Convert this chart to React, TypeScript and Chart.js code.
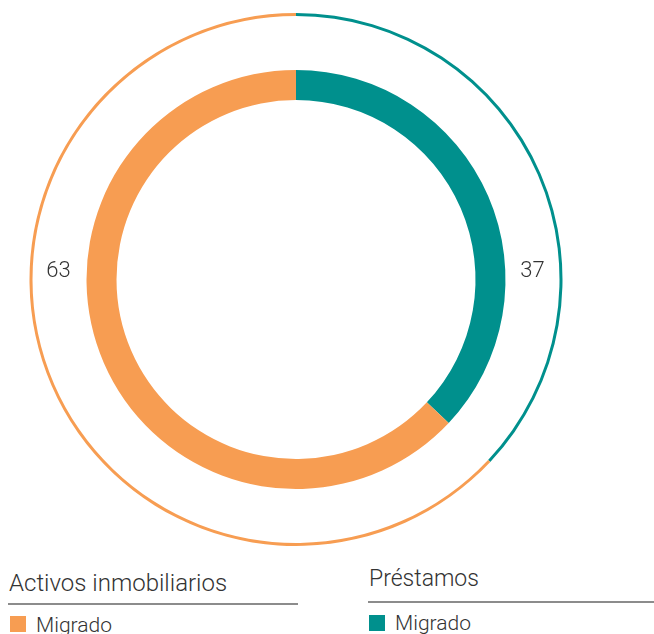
import React, { useEffect, useRef } from "react";
import { Chart, registerables } from "chart.js";

Chart.register(...registerables);

const categories = ["Préstamos", "Activos inmobiliarios"];
const values = [37, 63];
const colors = ["#00908D", "#F79D52"];
const legendItem = "Migrado";

const FONT = "Roboto, 'Open Sans', sans-serif";

const sideLabels = {
  id: "sideLabels",
  afterDraw(chart: any) {
    const meta = chart.getDatasetMeta(1);
    const arc = meta.data[0];
    if (!arc) return;
    const { x, y, outerRadius, innerRadius } = arc.getProps(["x", "y", "outerRadius", "innerRadius"], true);
    const mid = (outerRadius + innerRadius) / 2;
    const ctx = chart.ctx;
    ctx.save();
    ctx.font = `300 22px ${FONT}`;
    ctx.fillStyle = "#333333";
    ctx.textAlign = "center";
    ctx.textBaseline = "middle";
    ctx.fillText(String(values[0]), x + mid, y - 8);
    ctx.fillText(String(values[1]), x - mid - 1, y - 8);
    ctx.restore();
  },
};

export default function App() {
  const ref = useRef<HTMLCanvasElement | null>(null);
  useEffect(() => {
    if (!ref.current) return;
    const chart = new Chart(ref.current, {
      type: "doughnut",
      data: {
        labels: categories,
        datasets: [
          { data: values, backgroundColor: colors, borderWidth: 0, weight: 3 },
          { data: [1], backgroundColor: ["rgba(0,0,0,0)"], borderWidth: 0, weight: 54 },
          { data: values, backgroundColor: colors, borderWidth: 0, weight: 30 },
        ],
      },
      options: {
        animation: false,
        responsive: false,
        radius: 266.5,
        cutout: "67.35%",
        layout: { padding: 0 },
        plugins: {
          legend: { display: false },
          tooltip: { enabled: false },
        },
      } as any,
      plugins: [sideLabels],
    });
    return () => chart.destroy();
  }, []);

  const textStyle: React.CSSProperties = {
    position: "absolute",
    fontFamily: FONT,
    fontWeight: 300,
    color: "#333333",
    whiteSpace: "nowrap",
    lineHeight: 1,
  };

  return (
    <div style={{ position: "absolute", left: 0, top: 0, width: 654, height: 634, overflow: "hidden", background: "#fff" }}>
      <canvas ref={ref} width={592} height={559} style={{ position: "absolute", left: 0, top: 0, width: 592, height: 559 }} />
      <div style={{ ...textStyle, left: 9, top: 571, fontSize: 24 }}>{categories[1]}</div>
      <div style={{ position: "absolute", left: 8, top: 603, width: 290, height: 2, background: "#8C8C8C" }} />
      <div style={{ position: "absolute", left: 10, top: 616, width: 16, height: 16, background: colors[1] }} />
      <div style={{ ...textStyle, left: 36, top: 615, fontSize: 21 }}>{legendItem}</div>

      <div style={{ ...textStyle, left: 369, top: 567, fontSize: 23 }}>{categories[0]}</div>
      <div style={{ position: "absolute", left: 368, top: 601, width: 286, height: 2, background: "#8C8C8C" }} />
      <div style={{ position: "absolute", left: 369, top: 615, width: 16, height: 16, background: colors[0] }} />
      <div style={{ ...textStyle, left: 395, top: 613, fontSize: 21 }}>{legendItem}</div>
    </div>
  );
}
